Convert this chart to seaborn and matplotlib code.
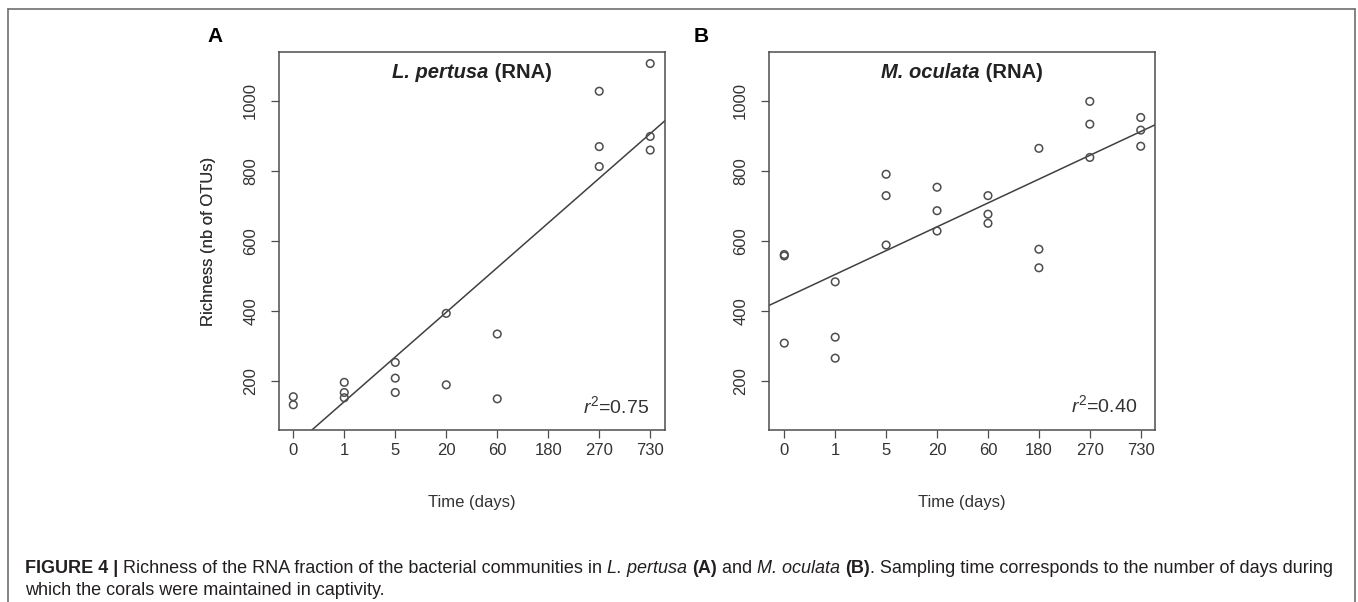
import matplotlib
matplotlib.use("Agg")
import matplotlib.pyplot as plt
from matplotlib.lines import Line2D
import seaborn as sns
import pandas as pd

# ---------------- data ----------------
day_labels = ["0", "1", "5", "20", "60", "180", "270", "730"]

lp_days = [0, 0, 1, 1, 1, 5, 5, 5, 20, 20, 60, 60, 270, 270, 270, 730, 730, 730]
lp_richness = [155, 132, 196, 167, 152, 253, 208, 167, 393, 189, 334, 149,
               1027, 869, 812, 1106, 898, 859]

mo_days = [0, 0, 0, 1, 1, 1, 5, 5, 5, 20, 20, 20, 60, 60, 60,
           180, 180, 180, 270, 270, 270, 730, 730, 730]
mo_richness = [561, 557, 308, 483, 325, 265, 790, 729, 588, 753, 686, 628,
               729, 676, 650, 864, 576, 523, 998, 933, 838, 952, 916, 870]

# fitted lines (richness = intercept + slope * time-category index)
fit_intercept = [13.5, 436.0]
fit_slope = [127.5, 68.0]

species = ["L. pertusa", "M. oculata"]
panel_letters = ["A", "B"]
r2_labels = ["0.75", "0.40"]
y_ticks = [200, 400, 600, 800, 1000]

# ---------------- style ----------------
sns.set_style("white")
plt.rcParams["font.family"] = ["Liberation Sans", "DejaVu Sans"]
plt.rcParams["mathtext.fontset"] = "custom"
plt.rcParams["mathtext.rm"] = "Liberation Sans"
plt.rcParams["mathtext.it"] = "Liberation Sans:italic"

W, H = 1358, 602
fig = plt.figure(figsize=(W / 100, H / 100), dpi=100)
fig.patch.set_facecolor("white")

AX_COL = "#4d4d4d"
TXT_COL = "#333333"
CAP_COL = "#231f20"

renderer = fig.canvas.get_renderer()


def adv(s, **kw):
    t1 = fig.text(0, 0, s + "|", **kw)
    t2 = fig.text(0, 0, "|", **kw)
    w = t1.get_window_extent(renderer).width - t2.get_window_extent(renderer).width
    t1.remove()
    t2.remove()
    return w


def place_runs(runs, x_px, y_px, align="left", va="baseline", common=None):
    common = common or {}
    widths = [adv(s, **common, **kw) for s, kw in runs]
    total = sum(widths)
    x = x_px - (total / 2 if align == "center" else 0)
    for (s, kw), w in zip(runs, widths):
        fig.text(x / W, 1 - y_px / H, s, ha="left", va=va, **common, **kw)
        x += w
    return total


panel_px = [(279, 665), (769, 1155)]
top_px, bot_px = 52, 430
datasets = [(lp_days, lp_richness), (mo_days, mo_richness)]
xlims = [(-0.28, 7.29), (-0.30, 7.28)]
r2_pos = [(0.959, 0.034), (0.953, 0.037)]

for i in range(2):
    l, r = panel_px[i]
    ax = fig.add_axes([l / W, 1 - bot_px / H, (r - l) / W, (bot_px - top_px) / H])
    days, rich = datasets[i]
    df = pd.DataFrame({
        "pos": [day_labels.index(str(d)) for d in days],
        "richness": rich,
    })
    sns.scatterplot(data=df, x="pos", y="richness", ax=ax, marker="o", s=30,
                    facecolor="none", edgecolor=AX_COL, linewidth=1.1, zorder=3)
    ax.axline((0, fit_intercept[i]), slope=fit_slope[i], color="#404040", lw=1.1, zorder=2)

    ax.set_xlim(*xlims[i])
    ax.set_ylim(60, 1139)
    ax.set_xticks(range(len(day_labels)))
    ax.set_xticklabels(day_labels)
    ax.set_yticks(y_ticks)
    ax.set_yticklabels([str(v) for v in y_ticks])
    for lab in ax.get_yticklabels():
        lab.set_rotation(90)
        lab.set_va("center")
    ax.tick_params(axis="both", direction="out", length=6, width=0.9, color=AX_COL,
                   labelsize=12, labelcolor=TXT_COL)
    ax.tick_params(axis="x", pad=3.5, bottom=True)
    ax.tick_params(axis="y", pad=9.0, left=True)
    for sp in ax.spines.values():
        sp.set_visible(True)
        sp.set_color(AX_COL)
        sp.set_linewidth(1.1)

    ax.set_xlabel("Time (days)", fontsize=12, color=TXT_COL)
    ax.set_ylabel("Richness (nb of OTUs)", fontsize=12, color=TXT_COL)
    ax.xaxis.label.set_va("center")
    ax.yaxis.label.set_va("center")
    ax.xaxis.set_label_coords(0.5, (bot_px - 503) / (bot_px - top_px))
    ax.yaxis.set_label_coords((208 - l) / (r - l), 0.5)

    ax.text(r2_pos[i][0], r2_pos[i][1], r"$r^2$=" + r2_labels[i], transform=ax.transAxes,
            ha="right", va="bottom", fontsize=14, color=TXT_COL)

    # title with italic species name
    place_runs([(species[i], {"fontstyle": "italic"}), (" (RNA)", {})],
               (l + r) / 2, 73, align="center", va="center",
               common={"fontsize": 14.5, "fontweight": "bold", "color": "#222222"})

    fig.text([215, 701][i] / W, 1 - 37 / H, panel_letters[i], fontsize=15,
             fontweight="bold", ha="center", va="center", color="black")

# frame around figure
fr_col = "#6d6e71"
fig.add_artist(Line2D([8 / W, 8 / W], [0, 1 - 9 / H], color=fr_col, lw=1.2))
fig.add_artist(Line2D([1355 / W, 1355 / W], [0, 1 - 9 / H], color=fr_col, lw=1.2))
fig.add_artist(Line2D([8 / W, 1355 / W], [1 - 9 / H, 1 - 9 / H], color=fr_col, lw=1.2))

# caption
line1 = [
    ("FIGURE 4 | ", {"fontweight": "bold"}),
    ("Richness of the RNA fraction of the bacterial communities in ", {}),
    ("L. pertusa", {"fontstyle": "italic"}),
    (" ", {}),
    ("(A)", {"fontweight": "bold"}),
    (" and ", {}),
    ("M. oculata", {"fontstyle": "italic"}),
    (" ", {}),
    ("(B)", {"fontweight": "bold"}),
    (". Sampling time corresponds to the number of days during", {}),
]
line2 = [("which the corals were maintained in captivity.", {})]

base = 12.0
wbase = sum(adv(s, fontsize=base, **kw) for s, kw in line1)
cap_size = base * 1305 / wbase
place_runs(line1, 25, 573, common={"fontsize": cap_size, "color": CAP_COL})
place_runs(line2, 25, 595, common={"fontsize": cap_size, "color": CAP_COL})

fig.savefig("out.png", dpi=100, facecolor="white")
